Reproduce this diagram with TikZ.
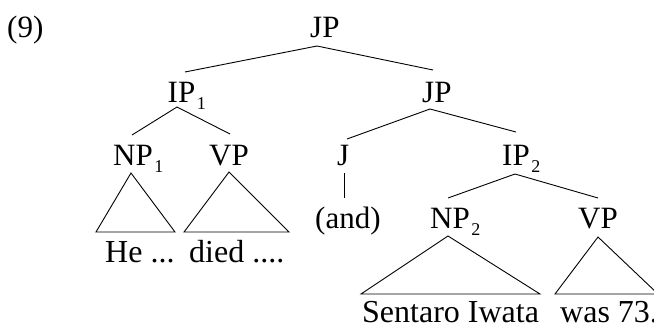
\documentclass[tikz,border=0pt]{standalone}
\usepackage{fontspec}
\setmainfont{Liberation Serif}
\newcommand{\subn}[1]{\kern1.5pt\raisebox{-7pt}{\fontsize{18}{18}\selectfont #1}}
\tikzset{
  lab/.style={anchor=base west,inner sep=0pt,font=\fontsize{31}{35}\selectfont},
  leaf/.style={anchor=base west,inner sep=0pt,font=\fontsize{32}{36}\selectfont},
  br/.style={line width=0.9pt,line join=miter},
}
\begin{document}
\begin{tikzpicture}[x=1pt,y=-1pt]
\useasboundingbox (0,0) rectangle (654,330);
% labels
\node[lab] (ex) at (7,37) {(9)};
\node[lab] (jp1) at (310,37) {JP};
\node[lab] (ip1) at (167.5,102) {IP\subn{1}};
\node[lab] (jp2) at (422,102) {JP};
\node[lab] (np1) at (113,165) {NP\subn{1}};
\node[lab] (vp1) at (209,165) {VP};
\node[lab] (j) at (337,165) {J};
\node[lab] (ip2) at (502,165) {IP\subn{2}};
\node[lab] (and) at (315,228) {(and)};
\node[lab] (np2) at (430,228) {NP\subn{2}};
\node[lab] (vp2) at (578,228) {VP};
\node[leaf] (he) at (105,262) {He ...};
\node[leaf] (died) at (189,262) {died ....};
\node[leaf] (sent) at (362,322) {Sentaro Iwata};
\node[leaf] (was) at (560,322) {was 73.};
% branch points
\coordinate (jp1b) at (317,46);
\coordinate (ip1t) at (185,72);
\coordinate (jp2t) at (433,70);
\coordinate (ip1b) at (177,107);
\coordinate (np1t) at (132,135);
\coordinate (vp1t) at (230,134);
\coordinate (jp2b) at (430,109);
\coordinate (jt) at (347,139);
\coordinate (ip2t) at (516,132);
\coordinate (jb) at (344,173);
\coordinate (andt) at (344,198);
\coordinate (ip2b) at (515,174);
\coordinate (np2t) at (448,198);
\coordinate (vp2t) at (598,198);
% triangles
\coordinate (np1a) at (131,173);
\coordinate (np1l) at (96,232);
\coordinate (np1r) at (175,232);
\coordinate (vp1a) at (229,172);
\coordinate (vp1l) at (184,232);
\coordinate (vp1r) at (289,232);
\coordinate (np2a) at (448,236);
\coordinate (np2l) at (361,294);
\coordinate (np2r) at (540,294);
\coordinate (vp2a) at (598,237);
\coordinate (vp2l) at (555,294);
\coordinate (vp2r) at (658,294);
% connectors
\draw[br] (ip1t) -- (jp1b) -- (jp2t);
\draw[br] (np1t) -- (ip1b) -- (vp1t);
\draw[br] (jt) -- (jp2b) -- (ip2t);
\draw[br] (jb) -- (andt);
\draw[br] (np2t) -- (ip2b) -- (vp2t);
\draw[br] (np1a) -- (np1l) -- (np1r) -- cycle;
\draw[br] (vp1a) -- (vp1l) -- (vp1r) -- cycle;
\draw[br] (np2a) -- (np2l) -- (np2r) -- cycle;
\draw[br] (vp2a) -- (vp2l) -- (vp2r) -- cycle;
\end{tikzpicture}
\end{document}
